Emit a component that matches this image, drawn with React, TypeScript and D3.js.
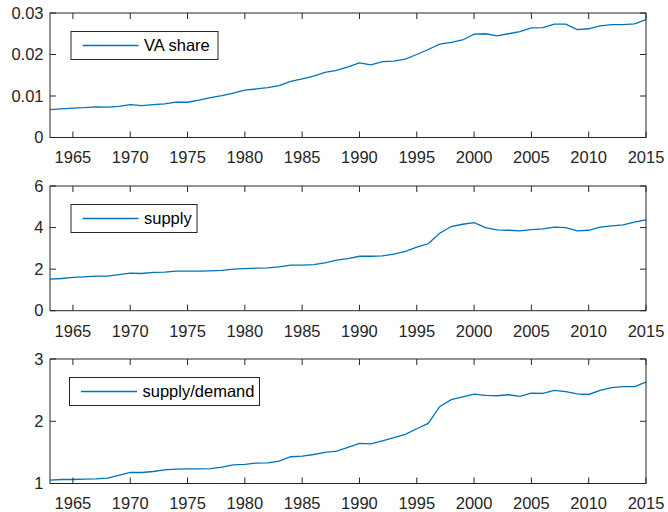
import React from 'react';
import * as d3 from 'd3';

// years 1963..2015
const years: number[] = d3.range(1963, 2016);

const vaShare: number[] = [
  0.0067, 0.0069, 0.0071, 0.0072, 0.0074, 0.0073, 0.0075, 0.0079, 0.0077, 0.0079,
  0.0081, 0.0085, 0.0085, 0.0090, 0.0096, 0.0101, 0.0107, 0.0114, 0.0117, 0.0120,
  0.0125, 0.0135, 0.0141, 0.0148, 0.0157, 0.0162, 0.0170, 0.0180, 0.0175, 0.0183,
  0.0184, 0.0189, 0.0200, 0.0212, 0.0225, 0.0229, 0.0235, 0.0249, 0.0250, 0.0245,
  0.0250, 0.0255, 0.0264, 0.0265, 0.0273, 0.0273, 0.0260, 0.0262, 0.0269, 0.0272,
  0.0272, 0.0274, 0.0284,
];

const supply: number[] = [
  1.52, 1.55, 1.60, 1.63, 1.66, 1.66, 1.74, 1.81, 1.79, 1.84,
  1.86, 1.90, 1.90, 1.90, 1.92, 1.94, 2.00, 2.02, 2.05, 2.06,
  2.11, 2.19, 2.19, 2.22, 2.30, 2.43, 2.51, 2.62, 2.62, 2.64,
  2.72, 2.85, 3.06, 3.22, 3.73, 4.05, 4.16, 4.24, 4.00, 3.89,
  3.87, 3.84, 3.90, 3.94, 4.02, 4.00, 3.84, 3.87, 4.02, 4.08,
  4.13, 4.26, 4.37,
];

const supplyDemand: number[] = [
  1.054, 1.064, 1.064, 1.070, 1.075, 1.086, 1.130, 1.177, 1.177, 1.193,
  1.220, 1.230, 1.236, 1.236, 1.240, 1.263, 1.300, 1.306, 1.327, 1.332,
  1.360, 1.430, 1.440, 1.466, 1.500, 1.520, 1.580, 1.643, 1.638, 1.686,
  1.735, 1.790, 1.880, 1.965, 2.233, 2.346, 2.390, 2.437, 2.415, 2.410,
  2.426, 2.400, 2.453, 2.448, 2.496, 2.475, 2.440, 2.430, 2.496, 2.540,
  2.555, 2.555, 2.630,
];

const xTicks: number[] = [1965, 1970, 1975, 1980, 1985, 1990, 1995, 2000, 2005, 2010, 2015];
const yTicks1: number[] = [0, 0.01, 0.02, 0.03];
const yTicks2: number[] = [0, 2, 4, 6];
const yTicks3: number[] = [1, 2, 3];

const labels: string[] = ['VA share', 'supply', 'supply/demand'];

const W = 668;
const H = 512;
const left = 50;
const right = 646;
const axisColor = '#262626';
const lineColor = '#0072BD';
const font = '"Liberation Sans", Arial, Helvetica, sans-serif';
const fs = 16.5;

function Panel(props: {
  top: number; bottom: number; values: number[]; domain: [number, number];
  ticks: number[]; fmt: (v: number) => string; label: string; legendW: number; legendX: number;
}) {
  const { top, bottom, values, domain, ticks, fmt, label, legendW, legendX } = props;
  const x = d3.scaleLinear().domain([1963, 2015]).range([left, right]);
  const y = d3.scaleLinear().domain(domain).range([bottom, top]);
  const line = d3.line<number>().x((d, i) => x(years[i])).y((d) => y(d));
  const tl = 6;
  const ly = top + 32.5;
  return (
    <g>
      <path d={line(values) || ''} fill="none" stroke={lineColor} strokeWidth={1.3} />
      <rect x={left} y={top} width={right - left} height={bottom - top} fill="none" stroke={axisColor} strokeWidth={1} />
      {xTicks.map((t) => (
        <g key={'x' + t}>
          <line x1={x(t)} x2={x(t)} y1={bottom} y2={bottom - tl} stroke={axisColor} />
          <line x1={x(t)} x2={x(t)} y1={top} y2={top + tl} stroke={axisColor} />
          <text x={x(t)} y={bottom + 25.8} textAnchor="middle" fontSize={fs} fill={axisColor}>{t}</text>
        </g>
      ))}
      {ticks.map((t) => (
        <g key={'y' + t}>
          <line x1={left} x2={left + tl} y1={y(t)} y2={y(t)} stroke={axisColor} />
          <line x1={right} x2={right - tl} y1={y(t)} y2={y(t)} stroke={axisColor} />
          <text x={43.5} y={y(t)} dy="0.35em" textAnchor="end" fontSize={fs} fill={axisColor}>{fmt(t)}</text>
        </g>
      ))}
      <rect x={legendX} y={ly - 14} width={legendW} height={28} fill="#fff" stroke={axisColor} strokeWidth={1} />
      <line x1={legendX + 11.5} x2={legendX + 67.5} y1={ly} y2={ly} stroke={lineColor} strokeWidth={1.3} />
      <text x={legendX + 73} y={ly} dy="0.35em" fontSize={fs} fill="#000">{label}</text>
    </g>
  );
}

export default function App() {
  return (
    <svg width={W} height={H} style={{ position: 'absolute', left: 0, top: 0, background: '#fff', fontFamily: font }}>
      <rect width={W} height={H} fill="#fff" />
      <Panel top={13} bottom={137.5} values={vaShare} domain={[0, 0.03]} ticks={yTicks1}
        fmt={(v) => (v === 0 ? '0' : d3.format('.2f')(v))} label={labels[0]} legendW={147} legendX={71} />
      <Panel top={186} bottom={310.7} values={supply} domain={[0, 6]} ticks={yTicks2}
        fmt={(v) => String(v)} label={labels[1]} legendW={126} legendX={71} />
      <Panel top={359} bottom={483.5} values={supplyDemand} domain={[1, 3]} ticks={yTicks3}
        fmt={(v) => String(v)} label={labels[2]} legendW={190} legendX={69.5} />
    </svg>
  );
}
